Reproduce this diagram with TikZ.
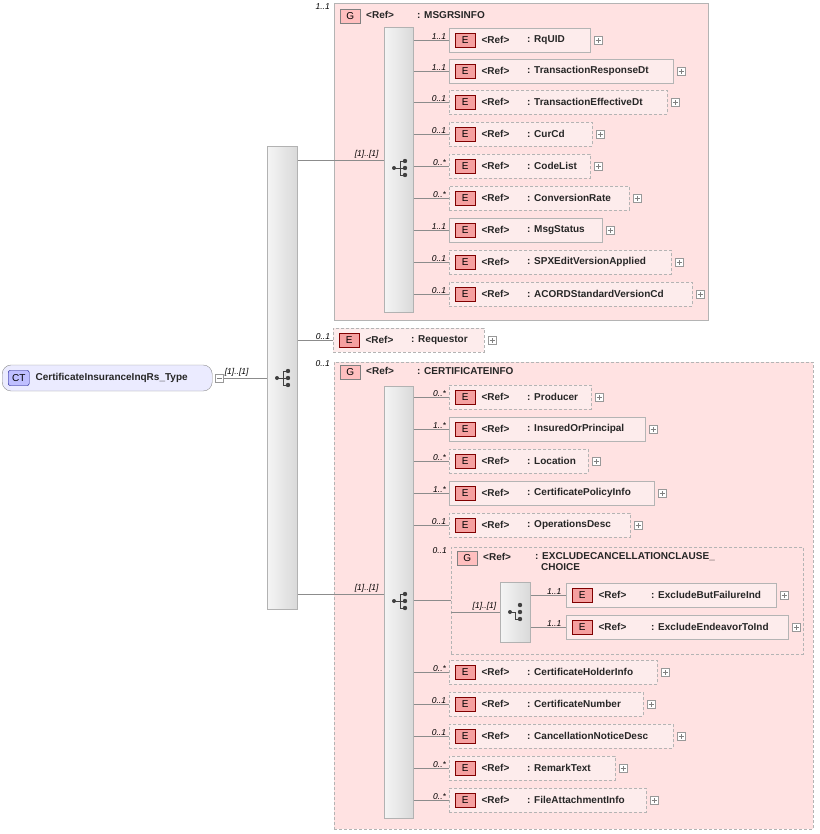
\documentclass[tikz,border=0pt]{standalone}
\usepackage{fontspec}
\setmainfont{Liberation Sans}
\usetikzlibrary{calc}
\definecolor{grpfill}{RGB}{255,226,226}
\definecolor{elfill}{RGB}{253,236,236}
\definecolor{bdr}{RGB}{180,180,180}
\definecolor{badge}{RGB}{245,160,160}
\tikzset{
  x=1pt, y=-1pt,
  lbl/.style={font=\fontsize{10}{11}\selectfont\bfseries, inner sep=0pt, anchor=west, text=black!85},
  card/.style={font=\fontsize{8.5}{9}\selectfont\itshape, inner sep=1pt, anchor=south east},
  conn/.style={draw=black!45, line width=0.5pt},
  box/.style={draw=bdr, line width=0.8pt, rectangle, inner sep=0pt, anchor=north west},
  opt/.style={dashed, dash pattern=on 3pt off 2pt},
  elem/.style={box, fill=elfill, minimum height=24pt},
  grp/.style={box, fill=grpfill},
  bar/.style={box, left color=black!4, right color=black!15, draw=black!30},
  badgebox/.style={draw=red!50!black, fill=badge, minimum width=20pt, minimum height=14pt, inner sep=0pt,
    font=\fontsize{10}{11}\selectfont, anchor=west},
  plus/.style={draw=black!40, fill=white, minimum size=8pt, inner sep=0pt, anchor=west,
    path picture={\draw[black!50] ([xshift=1.5pt]path picture bounding box.west) -- ([xshift=-1.5pt]path picture bounding box.east);
                  \draw[black!50] ([yshift=1.5pt]path picture bounding box.south) -- ([yshift=-1.5pt]path picture bounding box.north);}},
}
% #1 name, #2 x, #3 y-center, #4 right x, #5 extra style, #6 text, #7 name offset
\newcommand\elem[7]{%
  \node[elem, #5, minimum width={#4-#2}] (#1) at (#2,#3-12) {};
  \node[badgebox] (#1b) at ([xshift=6pt]#1.west) {E};
  \node[lbl] (#1r) at ([xshift=6pt]#1b.east) {<Ref>};
  \node[lbl] (#1n) at ([xshift=#7]#1.west) {: #6};
  \node[plus] (#1p) at ([xshift=3pt]#1.east) {};
}
\newcommand\seqicon[1]{%
  \draw[black!75, line width=0.9pt] ($(#1)+(-6,0)$) -- ($(#1)+(0,0)$) ($(#1)+(0,-7)$) -- ($(#1)+(0,7)$)
    ($(#1)+(0,-7)$) -- ($(#1)+(5,-7)$) ($(#1)+(0,7)$) -- ($(#1)+(5,7)$) ($(#1)+(0,0)$) -- ($(#1)+(5,0)$);
  \fill[black!75] ($(#1)+(-6,0)$) circle (2) ($(#1)+(5,-7)$) circle (2.2) ($(#1)+(5,0)$) circle (2.2) ($(#1)+(5,7)$) circle (2.2);
}
\begin{document}
\begin{tikzpicture}
\useasboundingbox (0,0) rectangle (819,834);

% root type
\node[draw=black!45, fill=blue!8, rounded corners=9pt, minimum width=210pt, minimum height=26pt, anchor=west,
  inner sep=0pt] (ct) at (2,378) {};
\node[draw=blue!50!black, fill=blue!25, rounded corners=2pt, minimum width=21pt, minimum height=15pt,
  font=\fontsize{10}{11}\selectfont, inner sep=0pt, anchor=west] (ctb) at ([xshift=6pt]ct.west) {CT};
\node[lbl] (ctn) at ([xshift=6pt]ctb.east) {CertificateInsuranceInqRs\_Type};
\node[draw=black!40, fill=white, minimum size=8pt, inner sep=0pt, anchor=west,
  path picture={\draw[black!50] ([xshift=1.5pt]path picture bounding box.west) -- ([xshift=-1.5pt]path picture bounding box.east);}]
  (ctm) at ([xshift=3pt]ct.east) {};

% main sequence
\node[bar, minimum width=30pt, minimum height=463pt] (seq) at (267,146) {};
\coordinate (seqc) at (283,378);
\seqicon{seqc}
\draw[conn] (ctm.east) -- (seq.west |- ctm.east) node[card, pos=0.6] {[1]..[1]};

% group MSGRSINFO
\node[grp, minimum width=374pt, minimum height=317pt] (g1) at (334,3) {};
\node[card] at (331,11) {1..1};
\node[badgebox, draw=black!50, fill=red!25] (g1b) at (340,16) {G};
\node[lbl] (g1r) at (366,15) {<Ref>};
\node[lbl] (g1n) at (417,15) {: MSGRSINFO};
\node[bar, minimum width=29pt, minimum height=285pt] (s1) at (384,27) {};
\coordinate (s1c) at (400,168);
\seqicon{s1c}
\draw[conn] (seq.east |- 0,160) -- (s1.west |- 0,160) node[card, pos=0.95] {[1]..[1]};

\elem{rquid}{449}{40}{590}{}{RqUID}{78pt}
\elem{trd}{449}{71}{673}{}{TransactionResponseDt}{78pt}
\elem{ted}{449}{102}{667}{opt}{TransactionEffectiveDt}{78pt}
\elem{cur}{449}{134}{592}{opt}{CurCd}{78pt}
\elem{code}{449}{166}{590}{opt}{CodeList}{78pt}
\elem{conv}{449}{198}{629}{opt}{ConversionRate}{78pt}
\elem{msg}{449}{230}{602}{}{MsgStatus}{78pt}
\elem{spx}{449}{262}{671}{opt}{SPXEditVersionApplied}{78pt}
\elem{acord}{449}{294}{692}{opt}{ACORDStandardVersionCd}{78pt}
\foreach \n/\c in {rquid/1..1,trd/1..1,ted/0..1,cur/0..1,code/0..*,conv/0..*,msg/1..1,spx/0..1,acord/0..1}
  \draw[conn] (s1.east |- \n.west) -- (\n.west) node[card, pos=0.95] {\c};

% Requestor
\elem{req}{333}{340}{484}{opt}{Requestor}{78pt}
\draw[conn] (seq.east |- req.west) -- (req.west) node[card, pos=0.95] {0..1};

% group CERTIFICATEINFO
\node[grp, opt, minimum width=479pt, minimum height=467pt] (g2) at (334,362) {};
\node[card] at (331,368) {0..1};
\node[badgebox, draw=black!50, fill=red!25] (g2b) at (340,372) {G};
\node[lbl] (g2r) at (366,371) {<Ref>};
\node[lbl] (g2n) at (417,371) {: CERTIFICATEINFO};
\node[bar, minimum width=29pt, minimum height=432pt] (s2) at (384,386) {};
\coordinate (s2c) at (400,601);
\seqicon{s2c}
\draw[conn] (seq.east |- 0,594) -- (s2.west |- 0,594) node[card, pos=0.95] {[1]..[1]};

\elem{prod}{449}{397}{591}{opt}{Producer}{78pt}
\elem{ins}{449}{429}{645}{}{InsuredOrPrincipal}{78pt}
\elem{loc}{449}{461}{588}{opt}{Location}{78pt}
\elem{cpi}{449}{493}{654}{}{CertificatePolicyInfo}{78pt}
\elem{ops}{449}{525}{630}{opt}{OperationsDesc}{78pt}
\elem{chi}{449}{672}{657}{opt}{CertificateHolderInfo}{78pt}
\elem{cno}{449}{704}{643}{opt}{CertificateNumber}{78pt}
\elem{cnd}{449}{736}{673}{opt}{CancellationNoticeDesc}{78pt}
\elem{rem}{449}{768}{615}{opt}{RemarkText}{78pt}
\elem{fai}{449}{800}{646}{opt}{FileAttachmentInfo}{78pt}
\foreach \n/\c in {prod/0..*,ins/1..*,loc/0..*,cpi/1..*,ops/0..1,chi/0..*,cno/0..1,cnd/0..1,rem/0..*,fai/0..*}
  \draw[conn] (s2.east |- \n.west) -- (\n.west) node[card, pos=0.95] {\c};

% choice group
\node[grp, opt, minimum width=352pt, minimum height=107pt] (g3) at (451,547) {};
\node[card] at (448,555) {0..1};
\node[badgebox, draw=black!50, fill=red!25] (g3b) at (457,558) {G};
\node[lbl] (g3r) at (483,557) {<Ref>};
\node[lbl, align=left, anchor=north west] (g3n) at (535,552) {: EXCLUDECANCELLATIONCLAUSE\_\\\hspace{6pt}CHOICE};
\draw[conn] (s2.east |- 0,600) -- (g3.west |- 0,600);
\node[bar, minimum width=30pt, minimum height=60pt] (c1) at (500,582) {};
\draw[conn] (g3.west |- 0,612) -- (c1.west |- 0,612) node[card, pos=0.95] {[1]..[1]};
% choice icon
\draw[black!75, line width=0.9pt] (510,612) -- (515,612) -- (515,619) -- (520,619);
\fill[black!75] (510,612) circle (2) (520,605) circle (2.2) (520,612) circle (2.2) (520,619) circle (2.2);

\elem{ebf}{566}{595}{776}{}{ExcludeButFailureInd}{85pt}
\elem{eet}{566}{627}{788}{}{ExcludeEndeavorToInd}{85pt}
\foreach \n in {ebf,eet}
  \draw[conn] (c1.east |- \n.west) -- (\n.west) node[card, pos=0.9] {1..1};
\end{tikzpicture}
\end{document}
